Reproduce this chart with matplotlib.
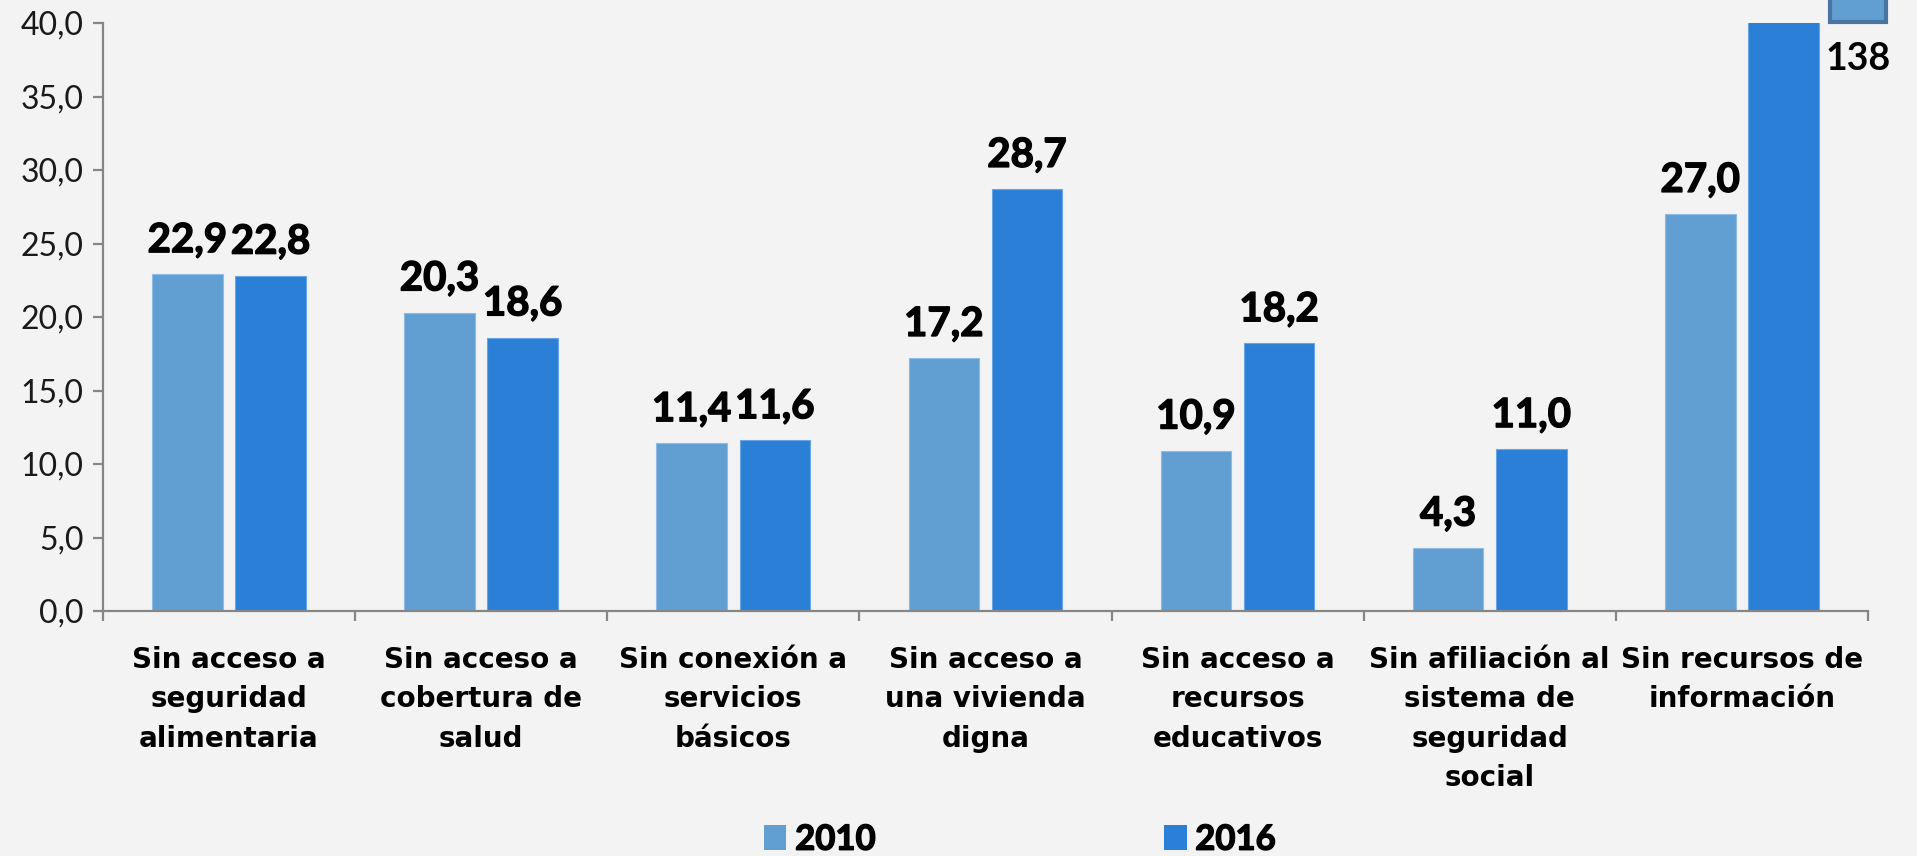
import matplotlib
matplotlib.use("Agg")
import matplotlib.pyplot as plt
import matplotlib.patheffects as pe
import numpy as np
from matplotlib.patches import Rectangle
from matplotlib.ticker import FuncFormatter

categories = [
    "Sin acceso a\nseguridad\nalimentaria",
    "Sin acceso a\ncobertura de\nsalud",
    "Sin conexión a\nservicios\nbásicos",
    "Sin acceso a\nuna vivienda\ndigna",
    "Sin acceso a\nrecursos\neducativos",
    "Sin afiliación al\nsistema de\nseguridad\nsocial",
    "Sin recursos de\ninformación",
]
series_names = ["2010", "2016"]
values_2010 = [22.9, 20.3, 11.4, 17.2, 10.9, 4.3, 27.0]
values_2016 = [22.8, 18.6, 11.6, 28.7, 18.2, 11.0, 138]
y_ticks = [0, 5, 10, 15, 20, 25, 30, 35, 40]

c2010 = "#619fd3"
c2016 = "#2b7fd7"
bg = "#f3f3f3"

def fmt(v):
    if v >= 100:
        return f"{v:.0f}"
    return f"{v:.1f}".replace(".", ",")

fig = plt.figure(figsize=(19.17, 8.56), dpi=100, facecolor=bg)
ax = fig.add_axes([0.0537, 0.2862, 0.9207, 0.6869], facecolor=bg)

x = np.arange(len(categories))
w = 0.28
off = 0.165
b1 = ax.bar(x - off, values_2010, w, color=c2010, edgecolor="#8dbbe3", linewidth=0.8, label=series_names[0])
b2 = ax.bar(x + off, values_2016, w, color=c2016, edgecolor="#6aa6e6", linewidth=0.8, label=series_names[1])

ax.set_xlim(-0.5, len(categories) - 0.5)
ax.set_ylim(y_ticks[0], y_ticks[-1])
ax.set_yticks(y_ticks)
ax.yaxis.set_major_formatter(FuncFormatter(lambda v, p: f"{v:.1f}".replace(".", ",")))

heavy = [pe.withStroke(linewidth=1.0, foreground="black")]
lab_font = dict(family=["Lato", "DejaVu Sans"], weight="bold", size=29)
for bars, vals in ((b1, values_2010), (b2, values_2016)):
    for rect, v in zip(bars, vals):
        cx = rect.get_x() + rect.get_width() / 2
        if v <= y_ticks[-1]:
            ax.annotate(fmt(v), xy=(cx, v), xytext=(0, 16), textcoords="offset points",
                        ha="center", va="baseline", path_effects=heavy, **lab_font)
        else:
            ax.annotate(fmt(v), xy=(cx, y_ticks[-1]), xytext=(54, -34), textcoords="offset points",
                        ha="center", va="baseline", annotation_clip=False,
                        family=["Lato", "DejaVu Sans"], weight="bold", size=27)

# decorative clipped callout box at top right
fig.patches.append(Rectangle((0.9545, 0.9743), 0.0295, 0.06, transform=fig.transFigure,
                             facecolor=c2010, edgecolor="#4b75a1", linewidth=3, zorder=5))

for s in ("top", "right"):
    ax.spines[s].set_visible(False)
for s in ("left", "bottom"):
    ax.spines[s].set_color("#868686")
    ax.spines[s].set_linewidth(1.6)

ax.tick_params(axis="y", direction="out", length=7, width=1.6, color="#868686",
               labelsize=23, pad=7, labelcolor="#1a1a1a")
for t in ax.get_yticklabels():
    t.set_family(["Lato", "DejaVu Sans"])

ax.set_xticks(x)
ax.set_xticklabels(categories, fontsize=20, fontweight="bold", family=["DejaVu Sans"],
                   linespacing=1.52, va="top")
ax.tick_params(axis="x", which="major", length=0, pad=25)
ax.set_xticks(np.arange(-0.5, len(categories), 1.0), minor=True)
ax.tick_params(axis="x", which="minor", direction="out", length=7, width=1.6, color="#868686")

leg = fig.legend(handles=[b1, b2], labels=series_names, loc="center", bbox_to_anchor=(0.532, 0.019),
                 ncol=2, frameon=False, handlelength=0.65, handleheight=0.75, handletextpad=0.25,
                 columnspacing=8.3, prop=dict(family=["Lato", "DejaVu Sans"], weight="bold", size=25))
for h in leg.legend_handles:
    h.set_edgecolor("none")
for t in leg.get_texts():
    t.set_path_effects(heavy)

fig.savefig("out.png", dpi=100, facecolor=bg)
